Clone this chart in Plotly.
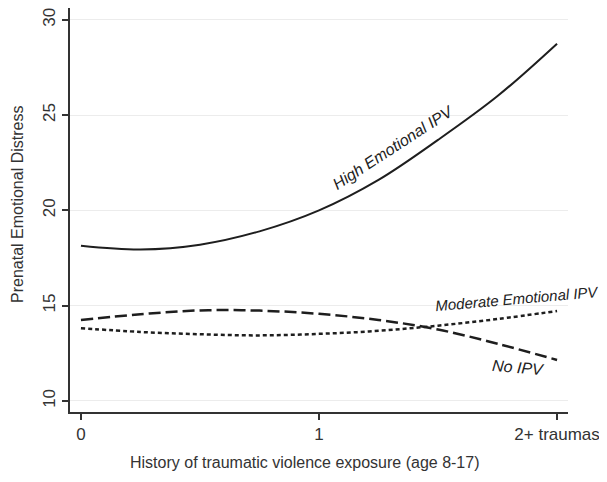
import plotly.graph_objects as go

# Data
x_vals = [0, 0.25, 0.5, 0.75, 1.0, 1.25, 1.5, 1.75, 2.0]
high_emotional = [18.15, 17.95, 18.2, 18.9, 20.0, 21.6, 23.7, 26.0, 28.75]
no_ipv = [14.25, 14.55, 14.75, 14.74, 14.57, 14.25, 13.75, 13.0, 12.15]
moderate_emotional = [13.82, 13.62, 13.5, 13.44, 13.52, 13.68, 13.95, 14.3, 14.72]

x_tickvals = [0, 1, 2]
x_ticktext = ["0", "1", "2+ traumas"]
y_tickvals = [10, 15, 20, 25, 30]

x_title = "History of traumatic violence exposure (age 8-17)"
y_title = "Prenatal Emotional Distress"

FONT = "Liberation Sans, Arial, Helvetica, sans-serif"
LINE = "#1e1e1e"
OFF = 8  # default page body margin
W, H = 607 - OFF, 482 - OFF
ML, MR, MT, MB = 70 - OFF, 39, 8 - OFF, 70

fig = go.Figure()
fig.add_trace(go.Scatter(x=x_vals, y=high_emotional, mode="lines",
                         line=dict(color=LINE, width=2, shape="spline"),
                         name="High Emotional IPV", showlegend=False))
fig.add_trace(go.Scatter(x=x_vals, y=no_ipv, mode="lines",
                         line=dict(color=LINE, width=2.5, shape="spline", dash="12px,5px"),
                         name="No IPV", showlegend=False))
fig.add_trace(go.Scatter(x=x_vals, y=moderate_emotional, mode="lines",
                         line=dict(color=LINE, width=2.5, shape="spline", dash="4px,3px"),
                         name="Moderate Emotional IPV", showlegend=False))

annots = [
    dict(x=1.31, y=23.3, text="<i>High Emotional IPV</i>", textangle=-33, size=16),
    dict(x=1.835, y=15.4, text="<i>Moderate Emotional IPV</i>", textangle=-5, size=15),
    dict(x=1.836, y=11.73, text="<i>No IPV</i>", textangle=5, size=16),
]
for a in annots:
    fig.add_annotation(x=a["x"], y=a["y"], text=a["text"], textangle=a["textangle"],
                       showarrow=False, font=dict(family=FONT, size=a["size"], color="#222"),
                       xref="x", yref="y")

# axis titles placed as paper annotations (page pixel -> paper fraction)
pw, ph = W - ML - MR, H - MT - MB
def px_to_paper(px, py):
    return (px - OFF - ML) / pw, 1 - (py - OFF - MT) / ph

tx, ty = px_to_paper(305, 463)
fig.add_annotation(x=tx, y=ty, xref="paper", yref="paper",
                   text=x_title, showarrow=False, xanchor="center", yanchor="middle",
                   font=dict(family=FONT, size=16, color="#333"))
tx, ty = px_to_paper(17, 205)
fig.add_annotation(x=tx, y=ty, xref="paper", yref="paper",
                   text=y_title, showarrow=False, textangle=-90, xanchor="center", yanchor="middle",
                   font=dict(family=FONT, size=16, color="#333"))

fig.update_layout(
    width=W, height=H,
    margin=dict(l=ML, r=MR, t=MT, b=MB),
    paper_bgcolor="white", plot_bgcolor="white",
    font=dict(family=FONT, color="#333"),
    xaxis=dict(range=[-0.046, 2.046], tickvals=x_tickvals, ticktext=x_ticktext,
               showline=True, linecolor="#333", linewidth=1.5,
               ticks="outside", ticklen=6, tickcolor="#333", tickwidth=1.5,
               showgrid=False, zeroline=False, automargin=False,
               ticklabeloverflow="allow",
               tickfont=dict(size=17, family=FONT, color="#333")),
    yaxis=dict(range=[9.42, 30.62], tickvals=y_tickvals, tickangle=-90,
               showline=True, linecolor="#333", linewidth=1.5,
               ticks="outside", ticklen=6, tickcolor="#333", tickwidth=1.5,
               showgrid=True, gridcolor="#ececec", gridwidth=1, zeroline=False,
               automargin=False, ticklabeloverflow="allow",
               tickfont=dict(size=17, family=FONT, color="#333")),
)

fig.write_html("out.html")
